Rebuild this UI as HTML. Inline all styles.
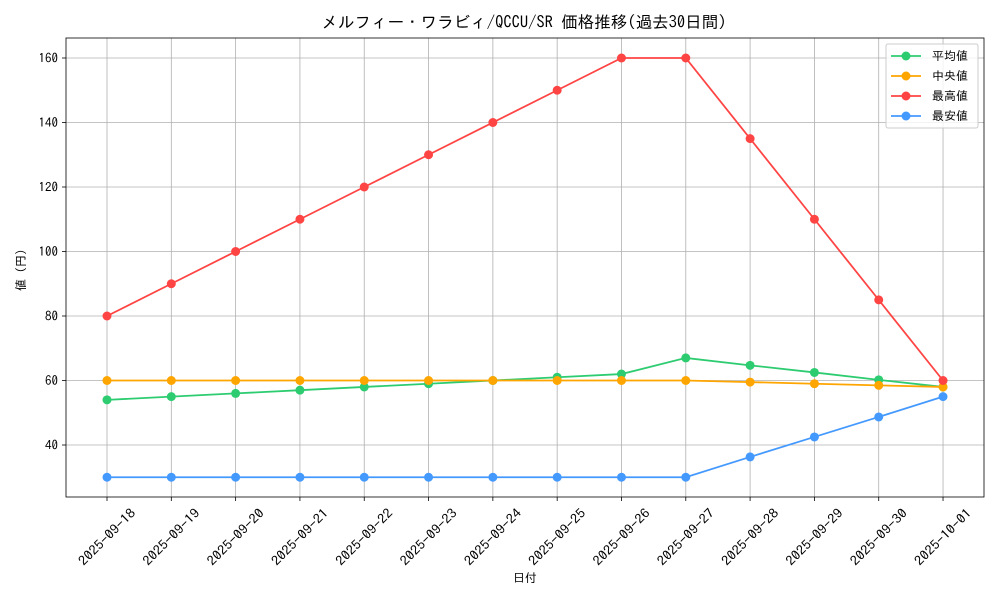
<!DOCTYPE html>
<html><head><meta charset="utf-8"><style>body{margin:0;background:#fff}svg{display:block}text{font-family:"IPAGothic","Liberation Sans","Noto Sans CJK JP",sans-serif;fill:#000}</style></head>
<body>
<svg width="1000" height="600" viewBox="0 0 1000 600" xmlns="http://www.w3.org/2000/svg">
<rect width="1000" height="600" fill="#fff"/>
<g id="grid" stroke="#b0b0b0" stroke-width="0.8"></g>
<rect x="66" y="38" width="918" height="459" fill="none" stroke="#000" stroke-width="0.8"/>
<g id="ticks"></g>
<g id="series"></g>
<text x="524" y="28" font-size="16.5" text-anchor="middle" textLength="405" lengthAdjust="spacingAndGlyphs">メルフィー・ワラビィ/QCCU/SR 価格推移(過去30日間)</text>
<text x="525" y="582" font-size="12" text-anchor="middle">日付</text>
<text transform="translate(25,270) rotate(-90)" font-size="12" text-anchor="middle">値 (円)</text>
<g id="legend">
<rect x="886" y="44" width="92" height="84" fill="#fff" fill-opacity="0.8" stroke="#ccc" rx="2"/>
</g>
</svg>
<script>
const ns="http://www.w3.org/2000/svg";
function el(t,a,p){const e=document.createElementNS(ns,t);for(const k in a)e.setAttribute(k,a[k]);document.getElementById(p).appendChild(e);return e;}
const X=i=>107+i*64.31, Y=v=>445-(v-40)*3.225;
const dates=["2025-09-18","2025-09-19","2025-09-20","2025-09-21","2025-09-22","2025-09-23","2025-09-24","2025-09-25","2025-09-26","2025-09-27","2025-09-28","2025-09-29","2025-09-30","2025-10-01"];
dates.forEach((d,i)=>{const x=X(i);
el("line",{x1:x,x2:x,y1:38,y2:497},"grid");
el("line",{x1:x,x2:x,y1:497,y2:501,stroke:"#000","stroke-width":0.8},"ticks");
const cy=537;
const t=el("text",{x:x,y:cy+4.5,"font-size":13,"text-anchor":"middle",textLength:74,lengthAdjust:"spacingAndGlyphs",transform:`rotate(-45 ${x} ${cy})`},"ticks");t.textContent=d;});
[40,60,80,100,120,140,160].forEach(v=>{const y=Y(v);
el("line",{x1:66,x2:984,y1:y,y2:y},"grid");
el("line",{x1:62,x2:66,y1:y,y2:y,stroke:"#000","stroke-width":0.8},"ticks");
const t=el("text",{x:58,y:y+4.5,"font-size":13,"text-anchor":"end"},"ticks");t.textContent=v;});
const S=[
["#2ecc71",[54,55,56,57,58,59,60,61,62,67,64.7,62.5,60.2,58],"平均値"],
["#ffa500",[60,60,60,60,60,60,60,60,60,60,59.5,59,58.5,58],"中央値"],
["#ff4444",[80,90,100,110,120,130,140,150,160,160,135,110,85,60],"最高値"],
["#4499ff",[30,30,30,30,30,30,30,30,30,30,36.3,42.5,48.7,55],"最安値"]];
S.forEach(([c,v,n],k)=>{
el("polyline",{points:v.map((a,i)=>X(i)+","+Y(a)).join(" "),fill:"none",stroke:c,"stroke-width":1.8},"series");
v.forEach((a,i)=>el("circle",{cx:X(i),cy:Y(a),r:4.5,fill:c},"series"));
const y=56+k*20;
el("line",{x1:891,x2:921,y1:y,y2:y,stroke:c,"stroke-width":1.8},"legend");
el("circle",{cx:906,cy:y,r:4.5,fill:c},"legend");
const t=el("text",{x:932,y:y+4,"font-size":12},"legend");t.textContent=n;});
</script>
</body></html>
